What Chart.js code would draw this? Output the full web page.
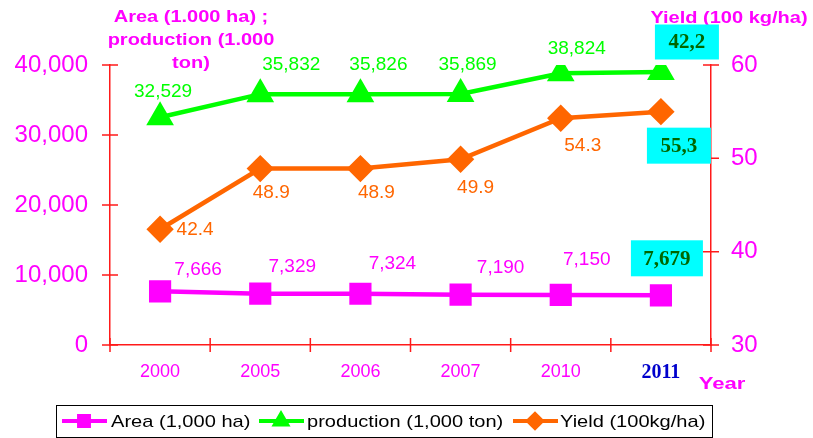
<!DOCTYPE html>
<html>
<head>
<meta charset="utf-8">
<script src="https://cdn.jsdelivr.net/npm/chart.js@4.4.0/dist/chart.umd.min.js"></script>
<style>
  body { margin: 0; background: #fff; }
  #wrap { width: 813px; height: 438px; }
</style>
</head>
<body>
<div id="wrap"><canvas id="myChart" width="813" height="438"></canvas></div>
<script>
// values
const years = ['2000', '2005', '2006', '2007', '2010', '2011'];
const area = [7666, 7329, 7324, 7190, 7150, 7100];
const production = [32529, 35832, 35826, 35869, 38824, 39000];
const yieldValues = [42.4, 48.9, 48.9, 49.9, 54.3, 55.0];

// texts printed next to the points (last one sits in a cyan box)
const areaLabels = ['7,666', '7,329', '7,324', '7,190', '7,150', '7,679'];
const productionLabels = ['32,529', '35,832', '35,826', '35,869', '38,824', '42,2'];
const yieldLabels = ['42.4', '48.9', '48.9', '49.9', '54.3', '55,3'];

const leftTicks = [0, 10000, 20000, 30000, 40000];
const rightTicks = [30, 40, 50, 60];

const MAGENTA = '#ff00ff';
const GREEN = '#00ff00';
const ORANGE = '#ff6600';
const RED = '#ff1a1a';
const SANS = '"Liberation Sans", Arial, sans-serif';
const SERIF = '"Liberation Serif", "Times New Roman", serif';

// label offsets from each point (dx, dy), and box sizes for the last point
const labelStyle = [
  { color: MAGENTA, dx: [38, 32, 32, 40, 26, 6], dy: [-22, -27, -30, -27, -35, -37], box: [72, 36] },
  { color: GREEN, dx: [3, 31, 18, 7, 16, 26], dy: [-26, -29, -29, -29, -24, -30], box: [64, 35] },
  { color: ORANGE, dx: [35, 11, 16, 15, 22, 18], dy: [0, 24, 24, 28, 28, 34], box: [64, 36] }
];
const labelSets = [areaLabels, productionLabels, yieldLabels];

// the original text is a bit wider than the fonts we have
function wideText(ctx, text, x, y, sx) {
  ctx.save();
  ctx.translate(x, y);
  ctx.scale(sx, 1);
  ctx.fillText(text, 0, 0);
  ctx.restore();
}

const decorations = {
  id: 'decorations',
  afterDatasetsDraw(chart) {
    const ctx = chart.ctx;
    ctx.save();
    ctx.textAlign = 'center';
    ctx.textBaseline = 'middle';
    chart.data.datasets.forEach(function (ds, d) {
      const meta = chart.getDatasetMeta(d);
      const st = labelStyle[d];
      meta.data.forEach(function (pt, i) {
        if (i === meta.data.length - 1) return; // boxed, drawn later
        ctx.font = '19px ' + SANS;
        ctx.fillStyle = st.color;
        ctx.fillText(labelSets[d][i], pt.x + st.dx[i], pt.y + st.dy[i]);
      });
    });
    ctx.restore();
  },
  afterDraw(chart) {
    const ctx = chart.ctx;
    const a = chart.chartArea;
    ctx.save();

    // crossing tick marks
    ctx.strokeStyle = RED;
    ctx.lineWidth = 1.5;
    ctx.beginPath();
    const yl = chart.scales.y;
    yl.ticks.forEach(function (t) {
      const y = yl.getPixelForValue(t.value);
      ctx.moveTo(a.left - 8, y); ctx.lineTo(a.left + 8, y);
    });
    const yr = chart.scales.y1;
    yr.ticks.forEach(function (t) {
      const y = yr.getPixelForValue(t.value);
      ctx.moveTo(a.right - 8, y); ctx.lineTo(a.right + 8, y);
    });
    const n = years.length;
    for (let i = 0; i <= n; i++) {
      const x = a.left + i * (a.right - a.left) / n;
      ctx.moveTo(x, a.bottom - 7); ctx.lineTo(x, a.bottom + 7);
    }
    ctx.stroke();

    // axis titles
    ctx.fillStyle = MAGENTA;
    ctx.textAlign = 'center';
    ctx.textBaseline = 'middle';
    ctx.font = 'bold 16px ' + SANS;
    wideText(ctx, 'Area (1.000 ha) ;', 191, 18, 1.25);
    wideText(ctx, 'production (1.000', 191, 41, 1.25);
    wideText(ctx, 'ton)', 191, 64, 1.25);
    wideText(ctx, 'Yield (100 kg/ha)', 729, 19, 1.25);
    ctx.font = 'bold 17px ' + SANS;
    wideText(ctx, 'Year', 722, 384, 1.3);

    // cyan boxes on the 2011 points
    chart.data.datasets.forEach(function (ds, d) {
      const meta = chart.getDatasetMeta(d);
      const i = meta.data.length - 1;
      const pt = meta.data[i];
      const st = labelStyle[d];
      const cx = pt.x + st.dx[i], cy = pt.y + st.dy[i];
      const w = st.box[0], h = st.box[1];
      ctx.fillStyle = '#00ffff';
      ctx.fillRect(cx - w / 2, cy - h / 2, w, h);
      ctx.fillStyle = '#006600';
      ctx.font = 'bold 21px ' + SERIF;
      ctx.fillText(labelSets[d][i], cx, cy + 1);
    });

    // legend
    ctx.strokeStyle = '#000';
    ctx.lineWidth = 1;
    ctx.strokeRect(56.5, 405.5, 656, 32);
    const items = [
      { x: 62, textX: 111, text: 'Area (1,000 ha)' },
      { x: 259, textX: 307, text: 'production (1,000 ton)' },
      { x: 513, textX: 560, text: 'Yield (100kg/ha)' }
    ];
    items.forEach(function (it, d) {
      const ds = chart.data.datasets[d];
      const y = 421;
      ctx.strokeStyle = ds.borderColor;
      ctx.lineWidth = 4;
      ctx.beginPath();
      ctx.moveTo(it.x, y); ctx.lineTo(it.x + 45, y);
      ctx.stroke();
      ctx.fillStyle = ds.borderColor;
      Chart.helpers.drawPoint(ctx, { pointStyle: ds.pointStyle, radius: 7, rotation: 0, borderWidth: 1 }, it.x + 22, y);
      ctx.fillStyle = '#000';
      ctx.textAlign = 'left';
      ctx.font = '17px ' + SANS;
      wideText(ctx, it.text, it.textX, y + 1, 1.18);
    });
    ctx.restore();
  }
};

const ctx = document.getElementById('myChart').getContext('2d');
new Chart(ctx, {
  type: 'line',
  data: {
    labels: years,
    datasets: [
      {
        label: 'Area (1,000 ha)', data: area, yAxisID: 'y',
        borderColor: MAGENTA, backgroundColor: MAGENTA, borderWidth: 4.5,
        pointStyle: 'rect', pointRadius: 12.5, pointHoverRadius: 12.5
      },
      {
        label: 'production (1,000 ton)', data: production, yAxisID: 'y',
        borderColor: GREEN, backgroundColor: GREEN, borderWidth: 4.5,
        pointStyle: 'triangle', pointRadius: 11.5, pointHoverRadius: 11.5
      },
      {
        label: 'Yield (100kg/ha)', data: yieldValues, yAxisID: 'y1',
        borderColor: ORANGE, backgroundColor: ORANGE, borderWidth: 4.5,
        pointStyle: 'rectRot', pointRadius: 10.5, pointHoverRadius: 10.5
      }
    ]
  },
  options: {
    responsive: false,
    animation: false,
    layout: { padding: { top: 65, left: 0, right: 0, bottom: 0 } },
    plugins: { legend: { display: false }, tooltip: { enabled: false } },
    scales: {
      x: {
        offset: true,
        grid: { display: true, drawOnChartArea: false, drawTicks: false },
        border: { color: RED, width: 1.5 },
        ticks: {
          padding: 16,
          color: function (c) { return c.index === years.length - 1 ? '#0000cc' : MAGENTA; },
          font: function (c) {
            return c.index === years.length - 1
              ? { family: SERIF, size: 20, weight: 'bold' }
              : { family: SANS, size: 18 };
          }
        },
        afterFit: function (s) { s.height = 93; }
      },
      y: {
        position: 'left', min: 0, max: 40000,
        grid: { display: true, drawOnChartArea: false, drawTicks: false },
        border: { color: RED, width: 1.5 },
        ticks: { padding: 22, color: MAGENTA, font: { family: SANS, size: 24 } },
        afterBuildTicks: function (s) { s.ticks = leftTicks.map(function (v) { return { value: v }; }); },
        afterFit: function (s) { s.width = 110; }
      },
      y1: {
        position: 'right', min: 30, max: 60,
        grid: { display: true, drawOnChartArea: false, drawTicks: false },
        border: { color: RED, width: 1.5 },
        ticks: { padding: 20, color: MAGENTA, font: { family: SANS, size: 24 } },
        afterBuildTicks: function (s) { s.ticks = rightTicks.map(function (v) { return { value: v }; }); },
        afterFit: function (s) { s.width = 102; }
      }
    }
  },
  plugins: [decorations]
});
</script>
</body>
</html>
